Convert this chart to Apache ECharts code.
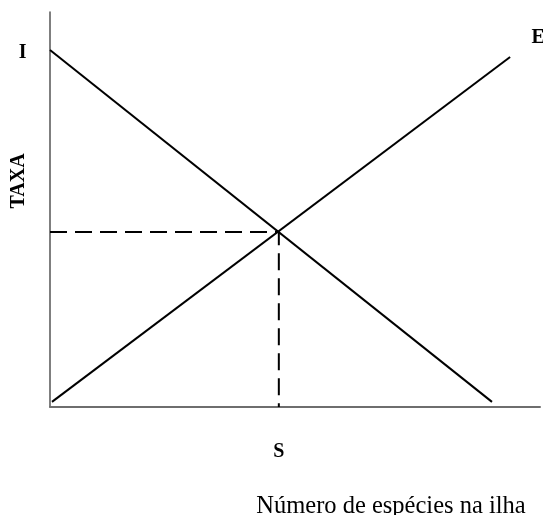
<!DOCTYPE html>
<html>
<head>
<meta charset="utf-8">
<script src="https://cdn.jsdelivr.net/npm/echarts@6/dist/echarts.min.js"></script>
<style>html,body{margin:0;padding:0;background:#fff}#c{width:543px;height:515px}</style>
</head>
<body>
<div id="c"></div>
<script>
// Data (axes 0..100 in both directions)
var immigrationLine = [[0, 90.4], [90.2, 1.3]];   // I
var extinctionLine = [[0.4, 1.3], [93.9, 88.6]];  // E
var equilibriumS = 46.7;
var equilibriumRate = 44.3;
var lineLabels = ['I', 'E'];
var xTickLabels = ['S'];
var yAxisTitle = 'TAXA';
var xAxisTitle = 'Número de espécies na ilha';

var serif = '"Liberation Serif", "Times New Roman", serif';
var labelStyle = {color: '#000', fontFamily: serif, fontWeight: 'bold', fontSize: 20};
var chart = echarts.init(document.getElementById('c'));
chart.setOption({
  animation: false,
  backgroundColor: '#fff',
  grid: {left: 50, right: 3, top: 12, bottom: 108},
  xAxis: {
    type: 'value', min: 0, max: 100,
    axisLine: {show: true, lineStyle: {color: '#6e6e6e', width: 2}},
    axisTick: {show: false},
    splitLine: {show: false},
    axisLabel: Object.assign({
      show: true, customValues: [equilibriumS], margin: 35,
      formatter: function () { return xTickLabels[0]; }
    }, labelStyle)
  },
  yAxis: {
    type: 'value', min: 0, max: 100,
    axisLine: {show: true, lineStyle: {color: '#555', width: 1.5}},
    axisTick: {show: false},
    splitLine: {show: false},
    axisLabel: {show: false}
  },
  graphic: [
    {type: 'text', x: 18.5, y: 181, rotation: Math.PI / 2,
     style: {text: yAxisTitle, fill: '#000', font: 'bold 20px ' + serif, align: 'center', verticalAlign: 'middle'}},
    {type: 'text', x: 391, y: 507,
     style: {text: xAxisTitle, fill: '#000', font: '24.5px ' + serif, align: 'center', verticalAlign: 'middle'}}
  ],
  series: [
    {
      type: 'line', symbol: 'circle', symbolSize: 1, showSymbol: true, silent: true,
      itemStyle: {color: 'rgba(0,0,0,0)'},
      lineStyle: {color: '#000', width: 2},
      data: [
        {value: immigrationLine[0], label: Object.assign({show: true, position: 'left', distance: 23, offset: [0, 3],
          formatter: lineLabels[0]}, labelStyle)},
        {value: immigrationLine[1]}
      ]
    },
    {
      type: 'line', symbol: 'circle', symbolSize: 1, showSymbol: true, silent: true,
      itemStyle: {color: 'rgba(0,0,0,0)'},
      lineStyle: {color: '#000', width: 2},
      data: [
        {value: extinctionLine[0]},
        {value: extinctionLine[1], label: Object.assign({show: true, position: 'right', offset: [16, -19],
          formatter: lineLabels[1]}, labelStyle)}
      ]
    },
    {
      type: 'line', symbol: 'none', silent: true,
      lineStyle: {color: '#000', width: 2, type: [17, 8]},
      data: [[0, equilibriumRate], [equilibriumS, equilibriumRate], [equilibriumS, 0]]
    }
  ]
});
</script>
</body>
</html>
